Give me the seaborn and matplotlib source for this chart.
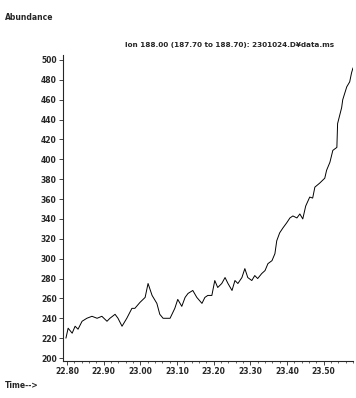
import numpy as np
import pandas as pd
import matplotlib
matplotlib.use("Agg")
import matplotlib.pyplot as plt
from matplotlib.ticker import MultipleLocator, FormatStrFormatter
import seaborn as sns

time = [22.797, 22.803, 22.814, 22.822, 22.830, 22.841, 22.854, 22.868, 22.882, 22.895,
        22.909, 22.917, 22.931, 22.939, 22.950, 22.963, 22.977, 22.985, 22.999, 23.013,
        23.021, 23.032, 23.045, 23.053, 23.062, 23.081, 23.094, 23.102, 23.113, 23.122,
        23.130, 23.143, 23.154, 23.168, 23.176, 23.184, 23.195, 23.203, 23.211, 23.222,
        23.231, 23.239, 23.250, 23.258, 23.266, 23.277, 23.285, 23.293, 23.304, 23.312,
        23.320, 23.331, 23.340, 23.348, 23.359, 23.367, 23.372, 23.380, 23.389, 23.399,
        23.408, 23.416, 23.427, 23.435, 23.443, 23.451, 23.462, 23.470, 23.476, 23.489,
        23.503, 23.508, 23.517, 23.525, 23.536, 23.538, 23.549, 23.552, 23.563, 23.571,
        23.576, 23.580]
abundance = [220, 230, 225, 232, 229, 237, 240, 242, 240, 242,
             237, 240, 244, 240, 232, 240, 250, 250, 256, 261,
             275, 263, 255, 244, 240, 240, 250, 259, 252, 261,
             265, 268, 261, 255, 261, 263, 263, 278, 271, 275,
             281, 275, 268, 278, 275, 281, 290, 281, 278, 283,
             280, 285, 288, 295, 298, 305, 318, 326, 331, 336,
             341, 343, 341, 345, 340, 353, 362, 361, 372, 376,
             381, 389, 397, 409, 412, 436, 452, 460, 473, 478,
             487, 492]

title = "Ion 188.00 (187.70 to 188.70): 2301024.D\u00a5data.ms"
ylabel = "Abundance"
xlabel = "Time-->"

sns.set_theme(style="ticks")
plt.rcParams['font.family'] = ['DejaVu Sans']

fig = plt.figure(figsize=(3.56, 3.98), dpi=100)
ax = fig.add_axes([63/356, 37/398, 290/356, 306/398])

df = pd.DataFrame({"time": time, "abundance": abundance})
sns.lineplot(data=df, x="time", y="abundance", ax=ax, color="black", linewidth=0.7)

ax.set_xlim(22.789, 23.580)
ax.set_ylim(197, 505)
ax.xaxis.set_major_locator(MultipleLocator(0.1))
ax.xaxis.set_minor_locator(MultipleLocator(0.02))
ax.xaxis.set_major_formatter(FormatStrFormatter("%.2f"))
ax.yaxis.set_major_locator(MultipleLocator(20))
ax.set_xlabel("")
ax.set_ylabel("")
sns.despine(ax=ax)
for s in ax.spines.values():
    s.set_linewidth(0.8)
ax.tick_params(axis="both", which="major", labelsize=5.5, length=3, width=0.6, pad=1.5)
ax.tick_params(axis="x", which="minor", length=1.5, width=0.5)
for lab in ax.get_xticklabels() + ax.get_yticklabels():
    lab.set_fontweight("bold")

fig.text(5/356, 1 - 17/398, ylabel, fontsize=5.5, fontweight="bold", va="center", ha="left")
fig.text(5/356, 1 - 385/398, xlabel, fontsize=5.5, fontweight="bold", va="center", ha="left")
fig.text(230/356, 1 - 45/398, title, fontsize=5.2, fontweight="bold", va="center", ha="center")

fig.savefig("out.png", dpi=100)
